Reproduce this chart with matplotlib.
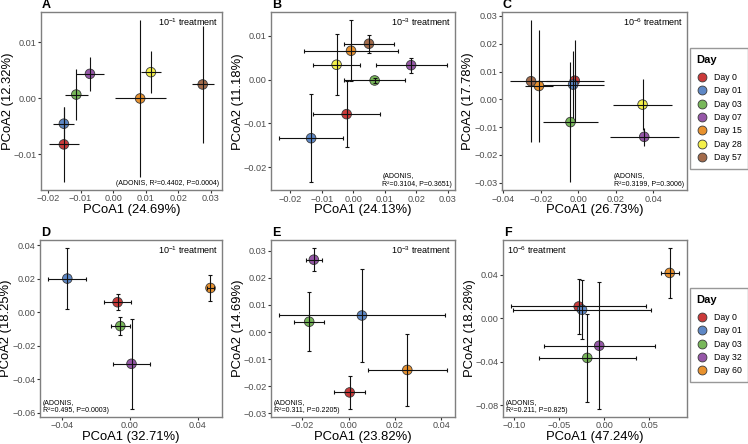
import matplotlib
matplotlib.use('Agg')
import matplotlib.pyplot as plt
from matplotlib.lines import Line2D
from matplotlib.ticker import MultipleLocator, FuncFormatter

plt.rcParams['font.family'] = ['Liberation Sans', 'DejaVu Sans']
plt.rcParams['mathtext.fontset'] = 'custom'
plt.rcParams['mathtext.rm'] = 'Liberation Sans'

# --- dados ---
dias_topo = ['Day 0', 'Day 01', 'Day 03', 'Day 07', 'Day 15', 'Day 28', 'Day 57']
dias_baixo = ['Day 0', 'Day 01', 'Day 03', 'Day 32', 'Day 60']

a_x = [-0.0151, -0.0151, -0.0113, -0.0071, 0.0083, 0.0116, 0.0275]
a_y = [-0.0082, -0.0045, 0.0007, 0.0044, 0.0000, 0.0047, 0.0025]
a_xe = [0.0045, 0.0032, 0.0036, 0.0043, 0.0078, 0.0030, 0.0034]
a_ye = [0.0067, 0.0030, 0.0045, 0.0030, 0.0140, 0.0037, 0.0104]

b_x = [-0.0021, -0.0134, 0.0068, 0.0184, -0.0007, -0.0053, 0.0050]
b_y = [-0.0079, -0.0134, -0.0002, 0.0033, 0.0066, 0.0034, 0.0082]
b_xe = [0.0106, 0.0101, 0.0097, 0.0113, 0.0149, 0.0076, 0.0080]
b_ye = [0.0075, 0.0101, 0.0006, 0.0017, 0.0070, 0.0070, 0.0021]

c_x = [-0.0019, -0.0028, -0.0042, 0.0351, -0.0210, 0.0342, -0.0252]
c_y = [0.0067, 0.0053, -0.0082, -0.0135, 0.0048, -0.0019, 0.0065]
c_xe = [0.0153, 0.0162, 0.0146, 0.0183, 0.0075, 0.0157, 0.0110]
c_ye = [0.0148, 0.0121, 0.0217, 0.0033, 0.0200, 0.0093, 0.0220]

d_x = [-0.0072, -0.0368, -0.0056, 0.0010, 0.0475]
d_y = [0.0059, 0.0200, -0.0083, -0.0308, 0.0144]
d_xe = [0.0081, 0.0112, 0.0056, 0.0109, 0.0019]
d_ye = [0.0047, 0.0182, 0.0053, 0.0269, 0.0078]

e_x = [0.0004, 0.0057, -0.0171, -0.0151, 0.0253]
e_y = [-0.0223, 0.0061, 0.0038, 0.0267, -0.0140]
e_xe = [0.0068, 0.0357, 0.0065, 0.0036, 0.0170]
e_ye = [0.0061, 0.0173, 0.0108, 0.0043, 0.0134]

f_x = [-0.0283, -0.0246, -0.0188, -0.0055, 0.0728]
f_y = [0.0109, 0.0079, -0.0364, -0.0252, 0.0418]
f_xe = [0.0748, 0.0765, 0.0537, 0.0616, 0.0099]
f_ye = [0.0250, 0.0273, 0.0403, 0.0582, 0.0229]

cores = {'Day 0': '#CB3A3A', 'Day 01': '#5E88C6', 'Day 03': '#78B85A',
         'Day 07': '#9657A8', 'Day 15': '#E8922F', 'Day 28': '#F4F04A',
         'Day 57': '#A36B4B', 'Day 32': '#9657A8', 'Day 60': '#E8922F'}

W, H = 748, 444
fig = plt.figure(figsize=(W / 100, H / 100), dpi=100)


def caixa(x0, x1, y0, y1):
    # pixels -> coordenadas da figura
    return [x0 / W, 1 - y1 / H, (x1 - x0) / W, (y1 - y0) / H]


def fmt(v, pos):
    s = f'{v:.2f}'
    if s == '-0.00':
        s = '0.00'
    return s.replace('-', '\u2212')


def painel(rect, xs, ys, xe, ye, dias, letra, trat, trat_esq, adonis, ad_esq,
           xlab, ylab, passo_x, passo_y, cap):
    x0, x1, y0, y1 = rect
    ax = fig.add_axes(caixa(*rect))
    ax.errorbar(xs, ys, xerr=xe, yerr=ye, fmt='none', ecolor='#111111',
                elinewidth=0.8, capsize=cap, capthick=0.8, zorder=3)
    ax.scatter(xs, ys, s=48, c=[cores[d] for d in dias], edgecolors='#3a3a3a',
               linewidths=0.6, zorder=2)
    # expansão de 5% como no ggplot
    lo = min(x - e for x, e in zip(xs, xe)); hi = max(x + e for x, e in zip(xs, xe))
    ax.set_xlim(lo - 0.05 * (hi - lo), hi + 0.05 * (hi - lo))
    lo = min(y - e for y, e in zip(ys, ye)); hi = max(y + e for y, e in zip(ys, ye))
    ax.set_ylim(lo - 0.05 * (hi - lo), hi + 0.05 * (hi - lo))
    ax.xaxis.set_major_locator(MultipleLocator(passo_x))
    ax.yaxis.set_major_locator(MultipleLocator(passo_y))
    ax.xaxis.set_major_formatter(FuncFormatter(fmt))
    ax.yaxis.set_major_formatter(FuncFormatter(fmt))
    ax.tick_params(length=2.2, width=0.8, color='#333333', labelsize=6.6,
                   labelcolor='#4d4d4d', pad=1.0)
    for sp in ax.spines.values():
        sp.set_color('#7f7f7f')
        sp.set_linewidth(1.0)
    ax.set_xlabel(xlab, fontsize=9.4)
    ax.set_ylabel(ylab, fontsize=9.4)
    ax.xaxis.set_label_coords(0.5, -19.8 / (y1 - y0))
    ax.xaxis.label.set_va('center')
    ax.yaxis.set_label_coords(-33.5 / (x1 - x0), 0.5)
    ax.yaxis.label.set_va('center')
    ax.text(0.005, 1 + 7.0 / (y1 - y0), letra, transform=ax.transAxes,
            fontsize=9, fontweight='bold', ha='left', va='center')
    if trat_esq:
        ax.text(0.02, 0.975, trat, transform=ax.transAxes, fontsize=6.5,
                ha='left', va='top')
    else:
        ax.text(0.98, 0.975, trat, transform=ax.transAxes, fontsize=6.5,
                ha='right', va='top')
    if ad_esq:
        ax.text(0.015, 0.015, adonis, transform=ax.transAxes, fontsize=5.0,
                ha='left', va='bottom', linespacing=1.1)
    else:
        ax.text(0.985, 0.015, adonis, transform=ax.transAxes, fontsize=5.0,
                ha='right', va='bottom', linespacing=1.1,
                multialignment='left')
    return ax


painel((41, 222, 12, 190), a_x, a_y, a_xe, a_ye, dias_topo, 'A',
       r'$\mathregular{10^{-1}}$ treatment', False,
       '(ADONIS, R\u00b2=0.4402, P=0.0004)', False,
       'PCoA1 (24.69%)', 'PCoA2 (12.32%)', 0.01, 0.01, 0)
painel((271, 455, 12, 190.5), b_x, b_y, b_xe, b_ye, dias_topo, 'B',
       r'$\mathregular{10^{-3}}$ treatment', False,
       '(ADONIS,\nR\u00b2=0.3104, P=0.3651)', False,
       'PCoA1 (24.13%)', 'PCoA2 (11.18%)', 0.01, 0.01, 1.5)
painel((502, 687, 12, 190.5), c_x, c_y, c_xe, c_ye, dias_topo, 'C',
       r'$\mathregular{10^{-6}}$ treatment', False,
       '(ADONIS,\nR\u00b2=0.3199, P=0.3006)', False,
       'PCoA1 (26.73%)', 'PCoA2 (17.78%)', 0.02, 0.01, 0)
painel((40, 222, 240, 417), d_x, d_y, d_xe, d_ye, dias_baixo, 'D',
       r'$\mathregular{10^{-1}}$ treatment', False,
       '(ADONIS,\nR\u00b2=0.495, P=0.0003)', True,
       'PCoA1 (32.71%)', 'PCoA2 (18.25%)', 0.04, 0.02, 1.5)
painel((271, 455, 240, 417), e_x, e_y, e_xe, e_ye, dias_baixo, 'E',
       r'$\mathregular{10^{-3}}$ treatment', False,
       '(ADONIS,\nR\u00b2=0.311, P=0.2205)', True,
       'PCoA1 (23.82%)', 'PCoA2 (14.69%)', 0.02, 0.01, 1.5)
painel((503, 687, 240, 417), f_x, f_y, f_xe, f_ye, dias_baixo, 'F',
       r'$\mathregular{10^{-6}}$ treatment', True,
       '(ADONIS,\nR\u00b2=0.211, P=0.825)', True,
       'PCoA1 (47.24%)', 'PCoA2 (18.28%)', 0.05, 0.04, 1.5)


def legenda(dias, topo):
    alcas = [Line2D([], [], ls='none', marker='o', markersize=6.4,
                    markerfacecolor=cores[d], markeredgecolor='#3a3a3a',
                    markeredgewidth=0.6, label=d) for d in dias]
    lg = fig.legend(handles=alcas, loc='upper left',
                    bbox_to_anchor=(690 / W, 1 - topo / H), title='Day',
                    fontsize=6.3, title_fontproperties={'weight': 'bold', 'size': 8},
                    frameon=True, fancybox=False, borderpad=0.75,
                    labelspacing=0.5, handletextpad=0.75, handlelength=1.2,
                    borderaxespad=0)
    lg._legend_box.align = 'left'
    lg._legend_box.sep = 6
    lg.get_frame().set_edgecolor('#7f7f7f')
    lg.get_frame().set_linewidth(1.0)


legenda(dias_topo, 48)
legenda(dias_baixo, 288)

fig.savefig('out.png', dpi=100)
